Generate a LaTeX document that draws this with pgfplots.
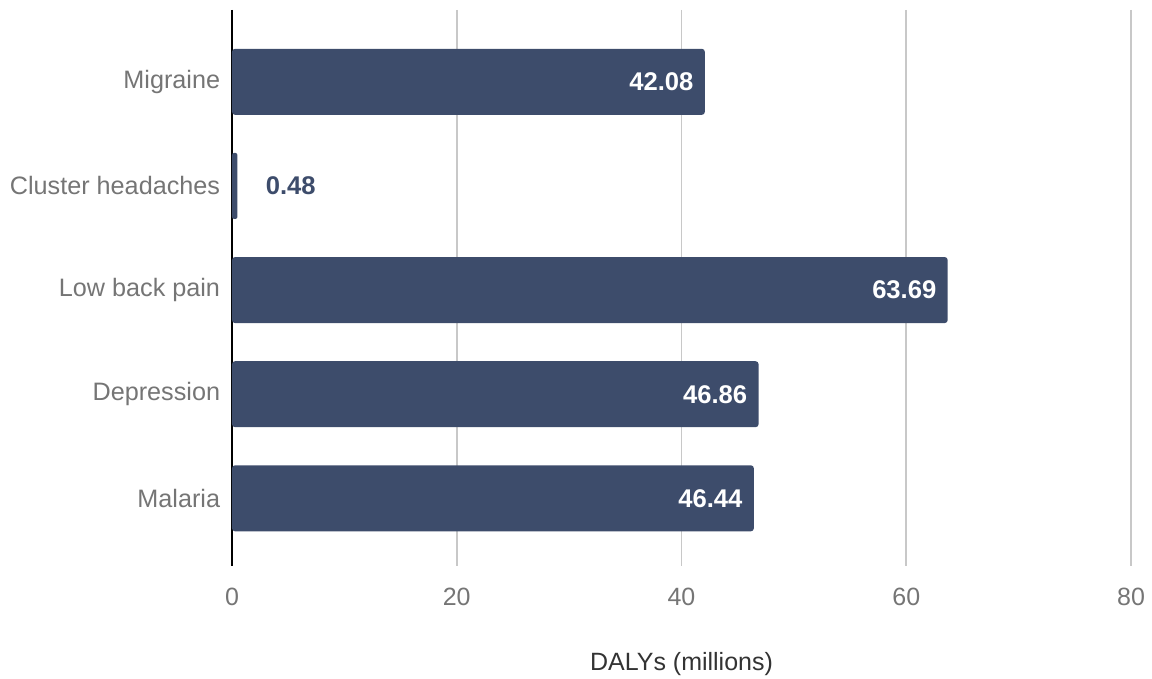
\documentclass[border=0pt]{standalone}
\usepackage{pgfplots}
\pgfplotsset{compat=1.18}
\usepackage{fontspec}
\setmainfont{Liberation Sans}
\definecolor{barc}{HTML}{3D4C6B}
\definecolor{tickc}{HTML}{757575}
\definecolor{gridc}{HTML}{C8C8C8}
\definecolor{labc}{HTML}{333333}
\begin{document}
\begin{tikzpicture}
\useasboundingbox (0,0) rectangle (576pt,339.5pt);
\begin{axis}[
  at={(116pt,56.5pt)}, anchor=south west, scale only axis,
  width=449.5pt, height=278pt,
  xmin=0, xmax=80, ymin=-0.69, ymax=4.65, y dir=reverse,
  xbar, bar width=33pt,
  axis line style={draw=none}, tick style={draw=none},
  xtick={0,20,40,60,80},
  xmajorgrids, grid style={gridc, line width=0.8pt},
  extra x ticks={0}, extra x tick labels={},
  extra x tick style={grid style={black, line width=1pt}},
  ytick={0,1,2,3,4},
  yticklabels={Migraine, Cluster headaches, Low back pain, Depression, Malaria},
  yticklabel style={font=\fontsize{12.6}{15}\selectfont, text=tickc, anchor=east, inner sep=0pt, xshift=-1.5pt},
  xticklabel style={font=\fontsize{12.5}{15}\selectfont, text=tickc, anchor=center, inner sep=0pt, yshift=-15.5pt},
  /pgf/number format/assume math mode=true,
  xlabel={DALYs (millions)},
  xlabel style={font=\fontsize{12.5}{15}\selectfont, text=labc, at={(axis description cs:0.5,0)}, anchor=center, yshift=-49pt},
  point meta=explicit symbolic,
]
\addplot[fill=barc, draw=none, bar shift=0pt, rounded corners=1.5pt,
  nodes near coords, nodes near coords style={anchor=east, inner sep=0pt, xshift=-5.5pt, text=white, font=\fontsize{12.8}{14}\selectfont\bfseries}]
  coordinates {(42.08,0) [42.08] (63.69,2) [63.69] (46.86,3) [46.86] (46.44,4) [46.44]};
\addplot[fill=barc, draw=none, bar shift=0pt, rounded corners=1pt,
  nodes near coords, nodes near coords style={anchor=west, inner sep=0pt, xshift=14pt, text=barc, font=\fontsize{12.8}{14}\selectfont\bfseries}]
  coordinates {(0.48,1) [0.48]};
\end{axis}
\end{tikzpicture}
\end{document}
